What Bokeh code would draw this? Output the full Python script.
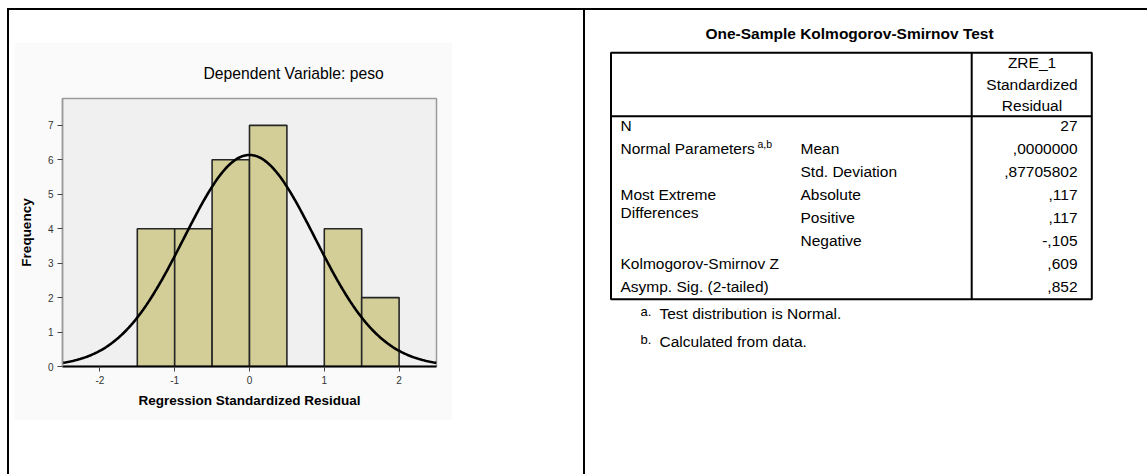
import numpy as np
from bokeh.plotting import figure
from bokeh.models import ColumnDataSource, Range1d, FixedTicker, Div, Spacer
from bokeh.layouts import row, column
from bokeh.embed import file_html
from bokeh.resources import INLINE
from bokeh.core.properties import value

# ---------------- data ----------------
bin_lefts = [-1.5, -1.0, -0.5, 0.0, 0.5, 1.0, 1.5]
bin_width = 0.5
frequencies = [4, 4, 6, 7, 0, 4, 2]
resid_mean = 0.0
resid_sd = 0.87705802
n_obs = 27
x_ticks = [-2, -1, 0, 1, 2]
y_ticks = [0, 1, 2, 3, 4, 5, 6, 7]

chart_title = "Dependent Variable: peso"
x_label = "Regression Standardized Residual"
y_label = "Frequency"

table_title = "One-Sample Kolmogorov-Smirnov Test"
header_lines = ["ZRE_1", "Standardized", "Residual"]
row_labels = ["N", "Normal Parameters", "", "Most Extreme", "", "", "Kolmogorov-Smirnov Z", "Asymp. Sig. (2-tailed)"]
row_labels_2nd = ["", "", "", "Differences", "", "", "", ""]
sub_labels = ["", "Mean", "Std. Deviation", "Absolute", "Positive", "Negative", "", ""]
row_values = ["27", ",0000000", ",87705802", ",117", ",117", "-,105", ",609", ",852"]
footnote_marks = ["a.", "b."]
footnote_texts = ["Test distribution is Normal.", "Calculated from data."]

FONT = "Liberation Sans"

# ---------------- histogram ----------------
p = figure(width=438, height=378, x_range=Range1d(-2.5, 2.5), y_range=Range1d(0, 7.78),
           output_backend="svg", toolbar_location=None,
           min_border_left=48, min_border_right=16, min_border_top=56, min_border_bottom=54,
           background_fill_color="#F0F0F0", border_fill_color="#FAFAFA",
           outline_line_color="#9A9A9A", outline_line_width=1.5)
p.grid.visible = False

lefts = np.array(bin_lefts)
src = ColumnDataSource(dict(left=lefts, right=lefts + bin_width, top=frequencies))
p.quad(left="left", right="right", top="top", bottom=0, source=src,
       fill_color="#D3CE97", line_color="#262626", line_width=1.6)

# fitted normal curve from the residual mean / sd / N shown in the table
xs = np.linspace(-2.5, 2.5, 300)
ys = n_obs * bin_width / (resid_sd * np.sqrt(2 * np.pi)) * np.exp(-0.5 * ((xs - resid_mean) / resid_sd) ** 2)
p.line(xs, ys, line_color="black", line_width=2.6)

p.title.text = chart_title
p.title.align = "left"
p.title.offset = 141
p.title.text_font = FONT
p.title.text_font_size = "15.7px"
p.title.text_font_style = "normal"
p.title.text_color = "black"
p.title.standoff = 33

for ax in (p.xaxis[0], p.yaxis[0]):
    ax.major_tick_in = 0
    ax.major_tick_out = 5
    ax.minor_tick_in = 0
    ax.minor_tick_out = 0
    ax.major_label_text_font = FONT
    ax.major_label_text_font_size = "10px"
    ax.major_label_text_color = "#333333"
    ax.major_tick_line_color = "#444444"
    ax.axis_label_text_font = FONT
    ax.axis_label_text_font_style = "bold"
    ax.axis_label_text_font_size = "13.5px"
    ax.axis_label_text_color = "black"

p.xaxis.ticker = FixedTicker(ticks=x_ticks)
p.xaxis.major_label_overrides = {t: str(t) for t in x_ticks}
p.xaxis.axis_label = x_label
p.xaxis.axis_line_color = "black"
p.xaxis.axis_line_width = 2
p.xaxis.major_label_standoff = 4
p.xaxis.axis_label_standoff = 6

p.yaxis.ticker = FixedTicker(ticks=y_ticks)
p.yaxis.axis_label = y_label
p.yaxis.axis_line_color = "#9A9A9A"
p.yaxis.axis_line_width = 1.5
p.yaxis.major_label_standoff = 4
p.yaxis.axis_label_standoff = 11

# ---------------- table ----------------
rt = figure(width=562, height=464, x_range=Range1d(585, 1147), y_range=Range1d(474, 10),
            output_backend="svg", toolbar_location=None, min_border=0,
            x_axis_location=None, y_axis_location=None, outline_line_color=None,
            background_fill_color="white", border_fill_color="white")
rt.grid.visible = False

tl, tr, tt, tb = 610.5, 1091.3, 52.3, 298.8
hdr_y, col_x = 115.7, 971.2
rt.quad(left=[tl], right=[tr], top=[tt], bottom=[tb], fill_color=None, line_color="black", line_width=2)
rt.segment(x0=[tl, col_x], y0=[hdr_y, tt], x1=[tr, col_x], y1=[hdr_y, tb], line_color="black", line_width=2)

txt = dict(text_font=value(FONT), text_font_size="15.5px", text_color="black", text_baseline="middle")
rt.text(x=[849], y=[33], text=[table_title], text_align="center",
        text_font=value(FONT), text_font_size="15.5px", text_font_style="bold",
        text_color="black", text_baseline="middle")

hy = [62, 83.5, 105]
rt.text(x=[1031.5] * 3, y=hy, text=header_lines, text_align="center", **txt)

ry = [125 + 23.0 * i for i in range(len(row_values))]
rt.text(x=[620] * len(ry), y=ry, text=row_labels, text_align="left", **txt)
rt.text(x=[620] * len(ry), y=[v + 18.4 for v in ry], text=row_labels_2nd, text_align="left", **txt)
rt.text(x=[800] * len(ry), y=ry, text=sub_labels, text_align="left", **txt)
rt.text(x=[1077] * len(ry), y=ry, text=row_values, text_align="right", **txt)
rt.text(x=[757], y=[ry[1] - 5], text=["a,b"], text_align="left",
        text_font=value(FONT), text_font_size="10.5px", text_color="black", text_baseline="middle")

fy = [313, 340.5]
rt.text(x=[640] * 2, y=[v - 2 for v in fy], text=footnote_marks, text_align="left",
        text_font=value(FONT), text_font_size="13px", text_color="black", text_baseline="middle")
rt.text(x=[659] * 2, y=fy, text=footnote_texts, text_align="left", **txt)

# ---------------- page layout (frame lines) ----------------
def bar(w, h):
    return Div(text="", width=w, height=h, margin=0, styles={"background-color": "black"})

def sp(w, h):
    return Spacer(width=w, height=h, margin=0)

left_col = column(sp(438, 32), p, sp(438, 54), spacing=0)
left_block = row(sp(5, 464), left_col, sp(131, 464), spacing=0)
main_row = row(sp(7, 464), bar(2, 464), left_block, bar(2, 464), rt, spacing=0)
top_row = row(sp(7, 2), bar(1140, 2), spacing=0)
layout = column(sp(1147, 8), top_row, main_row, spacing=0)

open("out.html", "w").write(file_html(layout, INLINE))
